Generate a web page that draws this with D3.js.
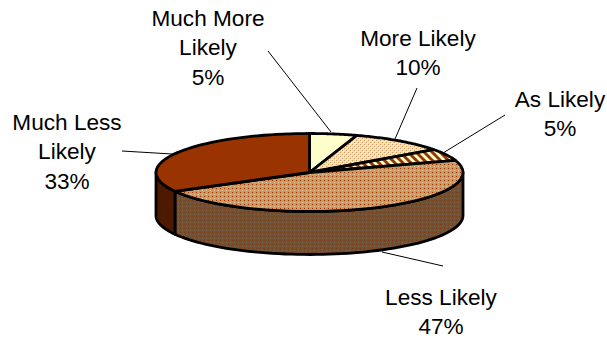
<!DOCTYPE html>
<html><head><meta charset="utf-8">
<script src="https://cdn.jsdelivr.net/npm/d3@7/dist/d3.min.js"></script>
<style>html,body{margin:0;padding:0;background:#fff}svg{display:block}
text{font-family:"Liberation Sans",Arial,sans-serif;font-size:22.6px;fill:#000}</style>
</head><body><svg id="c" width="607" height="339"></svg>
<script>
const categories=["Much More Likely","More Likely","As Likely","Less Likely","Much Less Likely"];
const values=[5,10,5,47,33];
const labelLines=[["Much More","Likely","5%"],["More Likely","10%"],["As Likely","5%"],["Less Likely","47%"],["Much Less","Likely","33%"]];
const topFills=["#FFFFCC","url(#pMore)","url(#pAs)","url(#pLess)","#993300"];
const sideFills=["#808066","#80664d","#80664d","url(#pLessSide)","#4D1A00"];
const labelCentres=[[208,10],[418,30],[560,91],[441,289],[67,114]];
const leaderStarts=[[268,51],[417,88],[505,115],[443,266],[122,151]];
const leaderEnds=[[331,132],[395,139],[443,153],[382,252],[172,154]];

const cx=309.5,cy=172.5,rx=153.5,ry=39,depth=43;
const svg=d3.select("#c"),defs=svg.append("defs");
function pat(id,w,h,bg,pix){const p=defs.append("pattern").attr("id",id).attr("patternUnits","userSpaceOnUse").attr("width",w).attr("height",h);
 p.append("rect").attr("width",w).attr("height",h).attr("fill",bg);
 pix.forEach(d=>p.append("rect").attr("x",d[0]).attr("y",d[1]).attr("width",1).attr("height",1).attr("fill",d[2]));}
pat("pMore",4,4,"#F3DFAE",[[0,0,"#CC9966"],[2,2,"#CC9966"],[1,1,"#FFFFCC"],[3,3,"#FFFFCC"]]);
pat("pLess",4,4,"#CC9966",[[0,0,"#993300"],[2,2,"#EBCFA0"]]);
pat("pLessSide",4,4,"#6B5238",[[0,0,"#7F3A14"],[2,2,"#806547"]]);
{const p=defs.append("pattern").attr("id","pAs").attr("patternUnits","userSpaceOnUse").attr("width",8).attr("height",8);
 p.append("rect").attr("width",8).attr("height",8).attr("fill","#993300");
 p.append("path").attr("d","M-2,2L6,10M2,-2L10,6").attr("stroke","#FFFFCC").attr("stroke-width",2.8);}

const pie=d3.pie().sort(null).value(d=>d);
const arcs=pie(values);
const px=a=>cx+rx*Math.sin(a),py=a=>cy-ry*Math.cos(a);
function topPath(d){const n=48;let s=`M${cx},${cy}`;for(let i=0;i<=n;i++){const a=d.startAngle+(d.endAngle-d.startAngle)*i/n;s+=`L${px(a)},${py(a)}`;}return s+"Z";}
function sidePath(a0,a1){const n=64;let s="";for(let i=0;i<=n;i++){const a=a0+(a1-a0)*i/n;s+=(i?"L":"M")+px(a)+","+py(a);}for(let i=n;i>=0;i--){const a=a0+(a1-a0)*i/n;s+="L"+px(a)+","+(py(a)+depth);}return s+"Z";}
const lo=Math.PI/2,hi=3*Math.PI/2;
const g=svg.append("g").attr("stroke","#000").attr("stroke-width",2.8).attr("stroke-linejoin","round");
arcs.forEach((d,i)=>{const a0=Math.max(d.startAngle,lo),a1=Math.min(d.endAngle,hi);if(a1>a0)g.append("path").attr("d",sidePath(a0,a1)).attr("fill",sideFills[i]);});
g.selectAll("path.t").data(arcs).join("path").attr("class","t").attr("d",topPath).attr("fill",(d,i)=>topFills[i]);
svg.append("g").attr("stroke","#000").attr("stroke-width",1).selectAll("line").data(leaderStarts).join("line")
 .attr("x1",d=>d[0]).attr("y1",d=>d[1]).attr("x2",(d,i)=>leaderEnds[i][0]).attr("y2",(d,i)=>leaderEnds[i][1]);
labelLines.forEach((ls,i)=>{const t=svg.append("text").attr("text-anchor","middle");
 ls.forEach((l,j)=>t.append("tspan").attr("x",labelCentres[i][0]).attr("y",labelCentres[i][1]+15.5+j*29.5).text(l));});
</script></body></html>
